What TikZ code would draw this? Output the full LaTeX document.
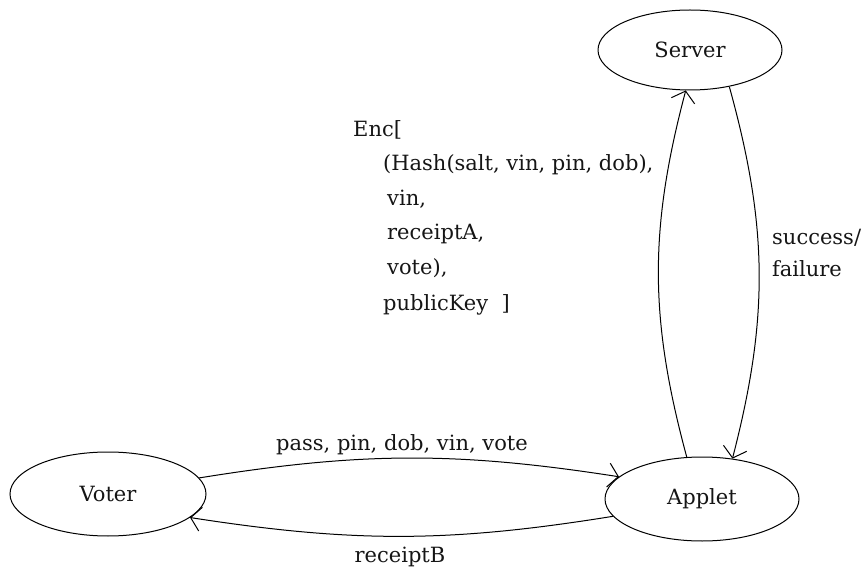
\documentclass[tikz,border=0pt]{standalone}
\usepackage{fontspec}
\setmainfont{DejaVu Serif}
\usetikzlibrary{shapes.geometric,arrows.meta}
\definecolor{ink}{HTML}{151515}
\begin{document}
\begin{tikzpicture}[x=1pt,y=-1pt,
  txt/.style={font=\fontsize{21}{25}\selectfont, text=ink, inner sep=0pt},
  actor/.style={txt, draw=black, ellipse, line width=1pt},
  msg/.style={draw=black, line width=1pt, -{Straight Barb[length=10pt,width=24pt]}}]
\useasboundingbox (0,0) rectangle (862,569);

% parties
\node[actor, minimum width=184pt, minimum height=80pt] (server) at (690,50) {Server};
\node[actor, minimum width=196pt, minimum height=84pt] (voter)  at (108,494) {Voter};
\node[actor, minimum width=194pt, minimum height=84pt] (applet) at (702,499) {Applet};

% messages
\draw[msg, bend left=15] (applet.110) to (server.264);
\draw[msg, bend left=15] (server.317) to (applet.53);
\draw[msg, bend left=9]  (voter.10)   to (applet.165);
\draw[msg, bend left=9]  (applet.191) to (voter.344);

% encrypted ballot sent to the server
\node[txt, anchor=base west] (enc0) at (353,137) {Enc[};
\node[txt, anchor=base west] (enc1) at (383,171) {(Hash(salt, vin, pin, dob),};
\node[txt, anchor=base west] (enc2) at (387,206) {vin,};
\node[txt, anchor=base west] (enc3) at (387,240) {receiptA,};
\node[txt, anchor=base west] (enc4) at (387,275) {vote),};
\node[txt, anchor=base west] (enc5) at (383,310) {publicKey\ \ ]};

% other message labels
\node[txt, anchor=base] (sendlbl) at (402,450) {pass, pin, dob, vin, vote};
\node[txt, anchor=base] (rcptlbl) at (400,562) {receiptB};
\node[txt, anchor=base west] (status1) at (772,245) {success/};
\node[txt, anchor=base west] (status2) at (772,277) {failure};
\end{tikzpicture}
\end{document}
